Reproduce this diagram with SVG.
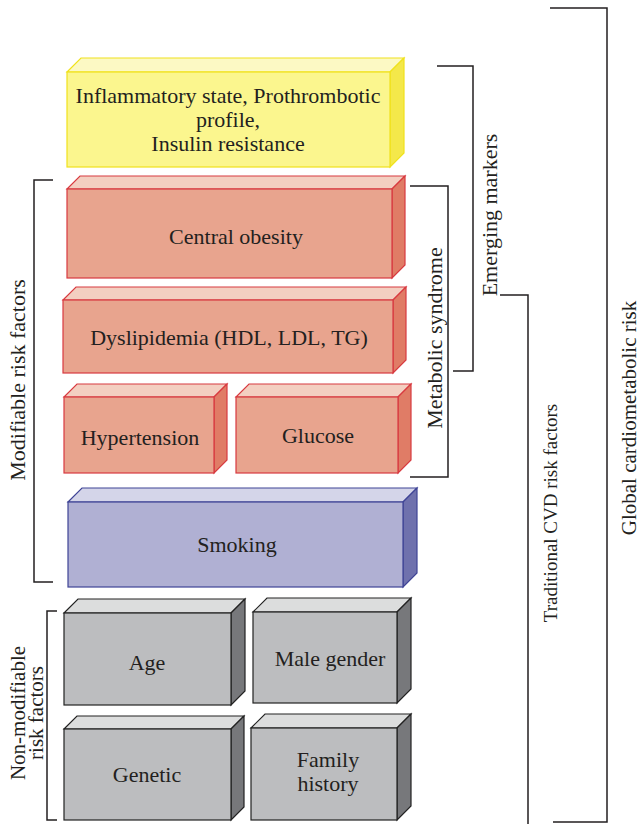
<svg xmlns="http://www.w3.org/2000/svg" width="641" height="824" viewBox="0 0 641 824">
<style>
text{font-family:"Liberation Serif","Times New Roman",serif;fill:#231f20;text-anchor:middle}
.t{font-size:22px}
.s{font-size:21px}
.y .f{fill:#fbf68e;stroke:#f0e21c;stroke-width:1.2}
.y .tp{fill:#fcf9c4;stroke:#f0e21c;stroke-width:1.2}
.y .sd{fill:#f4e84a;stroke:#f0e21c;stroke-width:1.2}
.r .f{fill:#e8a48e;stroke:#d83a40;stroke-width:1.2}
.r .tp{fill:#f3cfc1;stroke:#d83a40;stroke-width:1.2}
.r .sd{fill:#e07c66;stroke:#d83a40;stroke-width:1.2}
.b .f{fill:#b0b0d3;stroke:#3f4496;stroke-width:1.2}
.b .tp{fill:#d4d5e9;stroke:#3f4496;stroke-width:1.2}
.b .sd{fill:#6f71ad;stroke:#3f4496;stroke-width:1.2}
.g .f{fill:#bcbdbf;stroke:#222;stroke-width:1.2}
.g .tp{fill:#dcdddd;stroke:#222;stroke-width:1.2}
.g .sd{fill:#77787b;stroke:#222;stroke-width:1.2}
.br{fill:none;stroke:#231f20;stroke-width:1.5}
</style>

<g id="inflammatory" class="y">
<polygon class="tp" points="67,72 81,58 404,58 390,72"/>
<polygon class="sd" points="390,72 404,58 404,153 390,167"/>
<rect class="f" x="67" y="72" width="323" height="95"/>
<text class="t" x="228" y="103">Inflammatory state, Prothrombotic</text>
<text class="t" x="228" y="127">profile,</text>
<text class="t" x="228" y="151">Insulin resistance</text>
</g>

<g id="central-obesity" class="r">
<polygon class="tp" points="67,189 80,176 405,176 392,189"/>
<polygon class="sd" points="392,189 405,176 405,265 392,278"/>
<rect class="f" x="67" y="189" width="325" height="89"/>
<text class="t" x="236" y="244">Central obesity</text>
</g>

<g id="dyslipidemia" class="r">
<polygon class="tp" points="63,300 76,287 406,287 393,300"/>
<polygon class="sd" points="393,300 406,287 406,360 393,373"/>
<rect class="f" x="63" y="300" width="330" height="73"/>
<text class="t" x="229" y="345">Dyslipidemia (HDL, LDL, TG)</text>
</g>

<g id="hypertension" class="r">
<polygon class="tp" points="64,397 77,384 227,384 214,397"/>
<polygon class="sd" points="214,397 227,384 227,460 214,473"/>
<rect class="f" x="64" y="397" width="150" height="76"/>
<text class="t" x="140" y="445">Hypertension</text>
</g>

<g id="glucose" class="r">
<polygon class="tp" points="236,397 249,384 411,384 398,397"/>
<polygon class="sd" points="398,397 411,384 411,460 398,473"/>
<rect class="f" x="236" y="397" width="162" height="76"/>
<text class="t" x="318" y="443">Glucose</text>
</g>

<g id="smoking" class="b">
<polygon class="tp" points="68,502 82,488 417,488 403,502"/>
<polygon class="sd" points="403,502 417,488 417,573 403,587"/>
<rect class="f" x="68" y="502" width="335" height="85"/>
<text class="t" x="237" y="552">Smoking</text>
</g>

<g id="age" class="g">
<polygon class="tp" points="64,613 78,599 245,599 231,613"/>
<polygon class="sd" points="231,613 245,599 245,691 231,705"/>
<rect class="f" x="64" y="613" width="167" height="92"/>
<text class="t" x="147" y="670">Age</text>
</g>

<g id="male-gender" class="g">
<polygon class="tp" points="253,612 267,598 411,598 397,612"/>
<polygon class="sd" points="397,612 411,598 411,689 397,703"/>
<rect class="f" x="253" y="612" width="144" height="91"/>
<text class="t" x="330" y="666">Male gender</text>
</g>

<g id="genetic" class="g">
<polygon class="tp" points="64,729 77,716 244,716 231,729"/>
<polygon class="sd" points="231,729 244,716 244,807 231,820"/>
<rect class="f" x="64" y="729" width="167" height="91"/>
<text class="t" x="147" y="782">Genetic</text>
</g>

<g id="family-history" class="g">
<polygon class="tp" points="251,728 265,714 411,714 397,728"/>
<polygon class="sd" points="397,728 411,714 411,806 397,820"/>
<rect class="f" x="251" y="728" width="146" height="92"/>
<text class="t" x="328" y="767">Family</text>
<text class="t" x="328" y="791">history</text>
</g>

<g id="brackets">
<polyline class="br" points="53,180 34,180 34,582 53,582"/>
<polyline class="br" points="57,611 47,611 47,820 57,820"/>
<polyline class="br" points="410,186 448,186 448,477 410,477"/>
<polyline class="br" points="437,66 473,66 473,371 453,371"/>
<polyline class="br" points="500,295 528,295 528,824"/>
<polyline class="br" points="550,8 607,8 607,822 553,822"/>
</g>

<g id="bracket-labels">
<text class="t" transform="translate(25,380) rotate(-90)">Modifiable risk factors</text>
<text class="s" transform="translate(25,713) rotate(-90)">Non-modifiable</text>
<text class="s" transform="translate(43,713) rotate(-90)">risk factors</text>
<text class="t" transform="translate(442,338) rotate(-90)">Metabolic syndrome</text>
<text class="t" transform="translate(497,215) rotate(-90)">Emerging markers</text>
<text style="font-size:19px" transform="translate(557,513) rotate(-90)">Traditional CVD risk factors</text>
<text style="font-size:21px" transform="translate(636,418) rotate(-90)">Global cardiometabolic risk</text>
</g>
</svg>
